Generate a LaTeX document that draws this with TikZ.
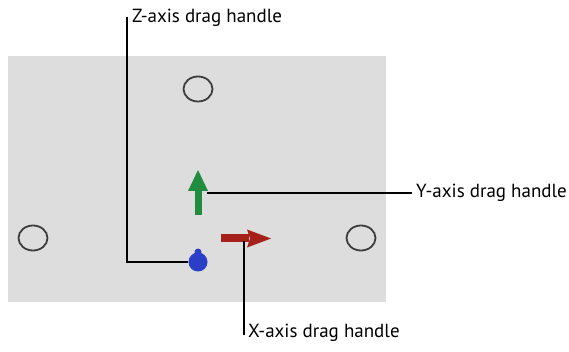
\documentclass[tikz,border=0pt]{standalone}
\usepackage{fontspec}
\setmainfont{PT Sans}
\usepackage{tikz}
\usetikzlibrary{calc}
\usepackage{xcolor}
\definecolor{panel}{RGB}{221,221,221}
\definecolor{ring}{RGB}{60,60,60}
\definecolor{xaxis}{RGB}{165,32,24}
\definecolor{yaxis}{RGB}{32,140,62}
\definecolor{zaxis}{RGB}{42,62,200}
\tikzset{
  hring/.style={ring,line width=1.8pt},
  hlead/.style={black,line width=1.2pt},
  hlabel/.style={font=\fontsize{19}{21}\selectfont,anchor=west,inner sep=0pt},
}

\begin{document}
\begin{tikzpicture}[x=1pt,y=-1pt]
  \useasboundingbox (0,0) rectangle (569,352);
  \coordinate (ztop)  at (127,17);
  \coordinate (yend)  at (412,193);
  \coordinate (xbot)  at (244,335);
  \fill[panel] (8,56) rectangle (386,302);
  \draw[hring] (198,89) ellipse [x radius=14.5,y radius=12.5];
  \draw[hring] (33,238) ellipse [x radius=14.5,y radius=12.5];
  \draw[hring] (361,238) ellipse [x radius=14.5,y radius=12.5];
  % y handle
  \fill[yaxis] (194.5,190) rectangle (201.5,215);
  \fill[yaxis] (198,170) -- (208,191) -- (188,191) -- cycle;
  \coordinate (yhandle) at (207,193);
  % x handle
  \fill[xaxis] (221,234.5) rectangle (249,242);
  \fill[xaxis] (271,238.5) -- (247,247.5) -- (250,238.5) -- (247,229.5) -- cycle;
  \coordinate (xhandle) at (244,241);
  % z handle
  \fill[zaxis] (198,262) circle [radius=9.5];
  \fill[zaxis] (198,252) circle [radius=3.5];
  \node[inner sep=0pt,minimum size=19pt,circle] (zhandle) at (198,262) {};
  \draw[hlead] (ztop) |- (zhandle.west);
  \draw[hlead] (yhandle) -- (yend);
  \draw[hlead] (xhandle) -- (xbot);
  \node[hlabel] (zlab) at ($(ztop)+(5,1)$) {Z-axis drag handle};
  \node[hlabel] (ylab) at ($(yend)+(4,0)$) {Y-axis drag handle};
  \node[hlabel] (xlab) at ($(xbot)+(4,-2)$) {X-axis drag handle};
\end{tikzpicture}
\end{document}
